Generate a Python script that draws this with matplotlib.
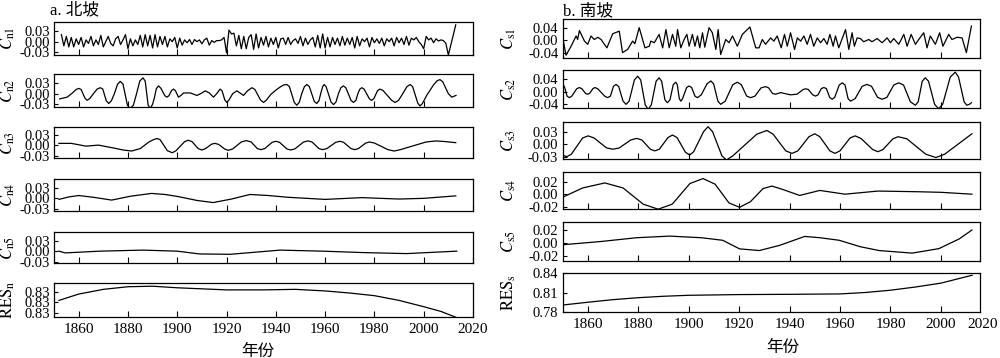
import matplotlib
matplotlib.use("Agg")
import matplotlib.pyplot as plt
import numpy as np

plt.rcParams['font.family'] = ['Liberation Serif', 'Noto Sans CJK SC']
plt.rcParams['mathtext.fontset'] = 'stix'
plt.rcParams['axes.unicode_minus'] = True

# ---------------- data: north slope (IMF values in units of 1e-3) ----------------
n1_years = list(range(1853, 2014))
n1_vals = [20, -12, 15, -15, 12, -15, 8,
           -8, 12, -15, 5, -5, 15, -12, 5, -8, 18,
           -15, 0, 15, -5, -12, 8, 15, -8, 5, 20,
           -20, 8, -12, 5, -8, 18, -15, 20, -12, 18,
           -18, 20, -15, 15, -8, 15, -15, 8, 0, 12,
           -18, 10, -10, 5, -3, 6, -8, 6, 0, 5,
           -6, 5, 10, -10, 3, -2, 3, 3, 5, 12,
           -32, 33, 22, 24, -12, 18, -20, 15, -20, 12,
           20, -22, 22, -18, 12, -10, 15, -15, 10, -8,
           12, -18, 8, 10, -8, 12, -8, 3, 8, -5,
           15, -12, 10, -8, 5, 12, -15, 18, -18, 22,
           -18, 12, -15, 12, -8, 10, -12, 15, -10, 10,
           -8, 12, -18, 15, -12, 8, 0, 10, -15, 12,
           -3, 8, -5, 10, -12, 8, 0, 10, -12, 12,
           -3, 10, -8, 15, -10, 10, 5, 12, 0, -8,
           -20, 15, 5, 10, -3, 8, 2, 5, 3, -5,
           -38, -10, 19, 48]

n2_years = [1852.3, 1855.3, 1857.5, 1859.0, 1860.0, 1861.0, 1862.5, 1863.4, 1864.5, 1866.0,
            1867.5, 1868.8, 1869.8, 1871.2, 1872.2, 1873.3, 1874.5, 1875.8, 1876.9, 1878.0,
            1879.8, 1880.9, 1882.2, 1883.5, 1884.8, 1886.1, 1887.0, 1888.2, 1889.1, 1890.0,
            1890.8, 1891.5, 1892.4, 1893.3, 1895.0, 1895.8, 1896.6, 1897.7, 1898.5, 1899.3,
            1900.5, 1901.5, 1902.6, 1905.3, 1908.0, 1909.5, 1911.4, 1913.0, 1914.7, 1916.0,
            1917.4, 1918.2, 1919.3, 1920.1, 1921.0, 1922.5, 1924.2, 1926.9, 1928.5, 1930.3,
            1931.5, 1933.8, 1935.0, 1936.2, 1938.0, 1940.0, 1942.0, 1943.3, 1944.5, 1945.5,
            1947.5, 1948.5, 1949.5, 1950.5, 1951.6, 1952.6, 1953.6, 1955.6, 1956.6, 1957.5,
            1958.2, 1959.0, 1959.6, 1960.4, 1962.4, 1963.4, 1964.4, 1965.4, 1966.4, 1967.4,
            1968.4, 1970.5, 1971.5, 1972.5, 1973.3, 1974.1, 1974.9, 1975.8, 1978.0, 1978.9,
            1979.8, 1981.3, 1982.3, 1983.5, 1987.0, 1988.4, 1989.8, 1991.5, 1993.2, 1994.5,
            1995.5, 1997.6, 1998.5, 1999.5, 2001.2, 2004.0, 2005.5, 2006.6, 2007.7, 2010.0,
            2011.4, 2013.1]
n2_vals = [-15, -10, 2, 12, 15, 12, -12, -19, -14, 0,
           13, 17, 13, -20, -28, -20, 0, 27, 35, 27,
           -33, -42, -33, 0, 36, 45, 36, -33, -42, -30,
           -10, 14, 22, 16, -6, -10, -6, 9, 13, 8,
           -10, -5, 2, 2, -5, 0, 8, 2, -10, 0,
           13, 8, -18, -25, -18, 0, 8, -5, 8, 17,
           12, -18, -25, -18, -2, 10, 20, 25, 26, 20,
           -25, -33, -25, 0, 20, 26, 20, -22, -28, -20,
           0, 20, 26, 20, -24, -31, -24, 0, 17, 22,
           17, -19, -25, -19, 0, 13, 17, 13, -15, -19,
           -14, 9, 13, 9, -19, -25, -19, 0, 20, 26,
           20, -27, -35, -28, -5, 25, 37, 40, 34, 0,
           -10, -5]

n3_years = [1852, 1857, 1860, 1863, 1868, 1874, 1878, 1881.5, 1885, 1888.5,
            1890.5, 1891.7, 1893, 1896, 1898, 1899.5, 1903, 1904.5, 1906, 1908.5,
            1910, 1911.5, 1914, 1915.3, 1916.8, 1919.2, 1920.7, 1922.5, 1926, 1928,
            1930, 1932.5, 1934, 1935.5, 1938.5, 1940, 1941.5, 1944.5, 1946, 1947.7,
            1951.3, 1953, 1954.7, 1957.5, 1959, 1960.7, 1964.3, 1966, 1967.5, 1970.5,
            1972, 1973.5, 1976.5, 1978, 1980, 1985.5, 1988, 1990.5, 2001, 2005,
            2009, 2013]
n3_vals = [6, 6, 2, -2, 1, -7, -13, -16, -9, 10,
           17, 20, 17, -15, -21, -15, 11, 15, 11, -9,
           -13, -9, 4, 6, 3, -10, -14, -10, 10, 14,
           10, -9, -12, -9, 9, 12, 9, -10, -13, -10,
           10, 13, 10, -9, -12, -9, 9, 12, 9, -9,
           -12, -9, 7, 10, 7, -12, -16, -12, 10, 13,
           11, 8]

n4_years = [1852, 1856, 1860, 1866, 1873.4, 1881, 1889.6, 1895, 1900.4, 1908,
            1914.6, 1922, 1929.5, 1937, 1945, 1960, 1975, 1990, 2000, 2013]
n4_vals = [-3, 4, 8, 3, -5, 6, 14, 11, 5, -6,
           -12, -2, 11, 8, 3, -3, 2, -2, 0, 7]

n5_years = [1852, 1854.5, 1868.7, 1886, 1900, 1909, 1921.5, 1941.7, 1959, 1975, 1993, 2013.4]
n5_vals = [0, -5, 0, 3, 0, -8, -9, 3, 0, -4, -7, 0]

resn_years = [1852, 1860, 1870, 1880, 1890, 1900, 1910, 1920, 1935, 1948, 1960, 1970,
              1980, 1990, 2000, 2007, 2013]
resn_vals = [0.8324, 0.8336, 0.8345, 0.8350, 0.8351, 0.8348, 0.8346, 0.8344, 0.8344, 0.8345,
             0.8342, 0.8338, 0.8333, 0.8324, 0.8312, 0.8303, 0.8292]

# ---------------- data: south slope ----------------
s1_years = [1850.1, 1851.4, 1853.4, 1855.4, 1856.0, 1856.7, 1858.7, 1860.0, 1861.3, 1862.6,
            1864.0, 1865.3, 1867.6, 1869.9, 1872.5, 1873.8, 1875.8, 1877.8, 1878.7, 1880.4,
            1882.7, 1884.4, 1885.0, 1886.4, 1888.3, 1889.7, 1891.0, 1892.3, 1893.6, 1894.9,
            1895.6, 1896.9, 1898.2, 1899.3, 1900.2, 1901.5, 1902.5, 1903.5, 1904.4, 1905.5,
            1906.4, 1908.1, 1909.4, 1910.8, 1911.7, 1912.7, 1914.7, 1916.0, 1917.4, 1919.3,
            1921.3, 1924.3, 1926.6, 1927.9, 1929.2, 1930.5, 1932.5, 1933.8, 1935.1, 1936.7,
            1938.0, 1939.1, 1940.4, 1942.0, 1943.1, 1944.4, 1945.7, 1947.0, 1948.3, 1949.6,
            1951.0, 1952.3, 1953.6, 1954.9, 1956.0, 1957.3, 1958.2, 1959.5, 1962.2, 1963.5,
            1964.8, 1965.7, 1966.8, 1968.1, 1969.4, 1971.4, 1972.7, 1974.7, 1976.7, 1978.7,
            1980.0, 1981.3, 1983.3, 1985.3, 1986.6, 1988.2, 1989.9, 1991.2, 1993.2, 1994.5,
            1995.8, 1997.8, 1999.5, 2000.8, 2003.1, 2004.4, 2006.4, 2008.4, 2010.1, 2012.1]
s1_vals = [8, -46, -18, 14, 3, 31, -2, -12, 14, 3,
           10, 3, -23, 21, 29, -38, -28, -2, -10, 40,
           -23, -18, -2, -7, 19, -23, 34, -23, 19, -18,
           34, -23, 3, 19, -18, 19, -18, 14, -23, 24,
           -21, 40, 24, -28, 34, -44, 3, -7, 14, -18,
           19, 42, -23, -23, 3, -12, 8, -2, 14, -23,
           19, -18, 24, -28, 8, -2, 14, -12, 19, -18,
           8, -7, 6, -12, 19, -18, 14, -23, 34, -28,
           24, -18, 8, 6, -4, 3, -4, 6, -7, 8,
           -7, 6, -12, 19, -18, 19, -12, 3, 24, -23,
           14, -12, 24, -18, 19, 3, 10, 8, -38, 45]

s2_years = [1850.1, 1850.8, 1851.8, 1852.7, 1853.7, 1855.6, 1856.7, 1857.7, 1859.2, 1860.0,
            1860.8, 1862.1, 1862.9, 1864.0, 1866.7, 1867.9, 1869.0, 1870.2, 1871.2, 1872.3,
            1874.0, 1875.2, 1876.4, 1878.5, 1879.8, 1881.0, 1882.8, 1884.0, 1885.2, 1887.1,
            1888.3, 1889.3, 1890.6, 1891.6, 1892.6, 1893.9, 1894.9, 1895.5, 1896.3, 1896.9,
            1897.6, 1899.2, 1900.2, 1901.2, 1902.5, 1903.5, 1905.0, 1907.3, 1908.8, 1909.9,
            1911.6, 1912.7, 1914.5, 1917.5, 1919.3, 1920.9, 1923.0, 1924.6, 1926.3, 1928.7,
            1930.5, 1931.7, 1933.3, 1934.5, 1936.5, 1940.4, 1943.0, 1945.4, 1946.4, 1947.4,
            1949.2, 1950.3, 1951.3, 1952.6, 1953.6, 1954.6, 1955.9, 1956.9, 1957.9, 1959.7,
            1960.9, 1962.0, 1963.2, 1964.2, 1966.0, 1968.8, 1970.7, 1972.5, 1974.9, 1976.7,
            1978.6, 1981.3, 1983.3, 1985.2, 1987.9, 1989.9, 1991.0, 1992.6, 1993.8, 1995.1,
            1997.5, 1999.1, 2000.7, 2003.7, 2005.7, 2007.0, 2009.2, 2010.3, 2011.3, 2012.1]
s2_vals = [23, 15, -14, -19, -14, 9, 13, 9, -6, -8,
           -5, 10, 13, 9, -14, -19, -14, 17, 23, 16,
           -30, -40, -30, 37, 49, 37, -42, -56, -42, 33,
           44, 33, -26, -35, -26, 22, 30, 22, -22, -30,
           -22, 13, 18, 13, -14, -19, -10, 25, 34, 25,
           -30, -40, -30, 22, 30, 22, -14, -19, -14, 12,
           16, 12, -6, -8, -3, -10, -8, 7, 9, 7,
           -10, -14, -10, 10, 13, 10, -18, -24, -18, 21,
           28, 21, -22, -30, -22, 17, 23, 17, -18, -24,
           -18, 21, 28, 21, -32, -43, -32, 33, 44, 33,
           -40, -54, -40, 46, 62, 46, -32, -43, -40, -35]

s3_years = [1850, 1851.7, 1853.5, 1858, 1860.2, 1862.5, 1867.5, 1870, 1872.5, 1877,
            1879.4, 1881.5, 1884.8, 1886.6, 1888.4, 1891.8, 1893.6, 1895.4, 1898.7, 1900.4,
            1902, 1905.9, 1907.7, 1909.5, 1913.2, 1915, 1917.5, 1927, 1931, 1933.5,
            1938.5, 1941, 1943.3, 1947.7, 1950, 1952, 1956, 1958, 1960, 1964,
            1966, 1968.3, 1973, 1975, 1977, 1981, 1983, 1986.5, 1994, 1998,
            2001.5, 2012.3]
s3_vals = [-26, -30, -24, 15, 20, 15, -9, -12, -9, 10,
           14, 10, -12, -16, -12, 16, 22, 16, -19, -26,
           -18, 30, 42, 30, -28, -38, -28, 24, 33, 24,
           -16, -22, -16, 18, 25, 18, -16, -22, -16, 15,
           20, 14, -13, -18, -13, 13, 18, 13, -24, -32,
           -24, 25]

s4_years = [1850, 1858, 1866.8, 1874, 1882, 1887.9, 1893.5, 1900.5, 1905.7, 1910.5,
            1916, 1920.2, 1924.5, 1929.5, 1933, 1937, 1944, 1952, 1962, 1975,
            1990, 2000, 2012.3]
s4_vals = [-5, 10, 18, 10, -16, -24, -16, 17, 25, 16,
           -14, -21, -12, 9, 13, 8, -2, 6, 0, 5,
           4, 3, 0]

s5_years = [1850, 1865, 1879.4, 1892.5, 1905, 1913.5, 1920.2, 1928, 1936, 1946, 1952,
            1959.7, 1968, 1975.5, 1988.6, 1999.2, 2007.2, 2012.3]
s5_vals = [-3, 2, 8, 10.5, 8, 4, -9.4, -12, -4, 10, 8,
           4, -6, -12, -16, -9, 6, 20]

ress_years = [1850, 1860, 1870, 1880, 1890, 1900, 1920, 1940, 1960, 1970, 1980, 1990, 2000, 2012.4]
ress_vals = [0.7907, 0.7950, 0.7990, 0.8020, 0.8042, 0.8057, 0.8068, 0.8072, 0.8078, 0.8100,
             0.8135, 0.8185, 0.8244, 0.8366]

left_labels = [r'$C_{\mathrm{n1}}$', r'$C_{\mathrm{n2}}$', r'$C_{\mathrm{n3}}$',
               r'$C_{\mathrm{n4}}$', r'$C_{\mathrm{n5}}$', r'$\mathrm{RES}_{\mathrm{n}}$']
right_labels = [r'$C_{\mathrm{s1}}$', r'$C_{\mathrm{s2}}$', r'$C_{\mathrm{s3}}$',
                r'$C_{\mathrm{s4}}$', r'$C_{\mathrm{s5}}$', r'$\mathrm{RES}_{\mathrm{s}}$']
left_yticks = [[-0.03, 0, 0.03]] * 5 + [[0.830, 0.832, 0.834]]
right_yticks = [[-0.04, 0, 0.04], [-0.04, 0, 0.04], [-0.03, 0, 0.03],
                [-0.02, 0, 0.02], [-0.02, 0, 0.02], [0.78, 0.81, 0.84]]
left_ylims = [(-0.038, 0.056), (-0.038, 0.056), (-0.036, 0.053), (-0.036, 0.055),
              (-0.034, 0.055), (0.82924, 0.83571)]
right_ylims = [(-0.0547, 0.067), (-0.0517, 0.0686), (-0.0355, 0.0533), (-0.0237, 0.0355),
               (-0.0283, 0.0325), (0.78, 0.84)]
xticks = [1860, 1880, 1900, 1920, 1940, 1960, 1980, 2000, 2020]

left_series = [(n1_years, n1_vals, 1e-3), (n2_years, n2_vals, 1e-3), (n3_years, n3_vals, 1e-3),
               (n4_years, n4_vals, 1e-3), (n5_years, n5_vals, 1e-3), (resn_years, resn_vals, 1.0)]
right_series = [(s1_years, s1_vals, 1e-3), (s2_years, s2_vals, 1e-3), (s3_years, s3_vals, 1e-3),
                (s4_years, s4_vals, 1e-3), (s5_years, s5_vals, 1e-3), (ress_years, ress_vals, 1.0)]

# ---------------- layout ----------------
W, H = 1000, 358
fig = plt.figure(figsize=(W / 100, H / 100), dpi=100)
L_boxes = [(22, 55), (74, 107), (127, 158), (179, 211), (232, 263), (283, 317)]
R_boxes = [(19, 58), (70, 108), (122, 159), (172, 209), (222, 261), (273, 312)]
L_x = (54, 473)
R_x = (562.5, 980)

YTICK_FS = 10.5
XTICK_FS = 11
LAB_FS = 12


def make_col(boxes, xr, series, labels, yticks, ylims, xlim, lab_x):
    axes = []
    for i, (top, bot) in enumerate(boxes):
        ax = fig.add_axes([xr[0] / W, 1 - bot / H, (xr[1] - xr[0]) / W, (bot - top) / H])
        yrs, vals, sc = series[i]
        ax.plot(yrs, np.asarray(vals, dtype=float) * sc, color='black', lw=0.9)
        ax.set_xlim(*xlim)
        ax.set_ylim(*ylims[i])
        ax.set_yticks(yticks[i])
        ax.set_yticklabels(['%.2f' % v for v in yticks[i]])
        ax.set_xticks([t for t in xticks if t <= xlim[1]])
        ax.tick_params(axis='x', direction='in', length=4, width=0.8, labelsize=XTICK_FS, pad=4)
        ax.tick_params(axis='y', direction='in', length=3, width=0.8, labelsize=YTICK_FS, pad=3)
        ax.tick_params(top=False, right=False)
        if i < len(boxes) - 1:
            ax.tick_params(labelbottom=False)
        for sp in ax.spines.values():
            sp.set_linewidth(0.9)
        ax.set_ylabel(labels[i], fontsize=LAB_FS)
        ax.yaxis.set_label_coords(lab_x, 0.5)
        axes.append(ax)
    return axes


lax = make_col(L_boxes, L_x, left_series, left_labels, left_yticks, left_ylims,
               (1850, 2020), (17 - L_x[0]) / (L_x[1] - L_x[0]))
rax = make_col(R_boxes, R_x, right_series, right_labels, right_yticks, right_ylims,
               (1850, 2015.5), (518 - R_x[0]) / (R_x[1] - R_x[0]))

# right column: end label at the axis end
rax[-1].annotate('2020', xy=(1.0, 0.0), xycoords='axes fraction', xytext=(2, -4),
                 textcoords='offset points', ha='center', va='top', fontsize=XTICK_FS,
                 family='Liberation Serif')

fig.text(50 / W, 1 - 10 / H, 'a. 北坡', fontsize=12, ha='left', va='center',
         family=['Liberation Serif', 'Noto Sans CJK SC'])
fig.text(563 / W, 1 - 11 / H, 'b. 南坡', fontsize=12, ha='left', va='center',
         family=['Liberation Serif', 'Noto Sans CJK SC'])
fig.text(258 / W, 1 - 351 / H, '年份', fontsize=12, ha='center', va='center',
         family=['Noto Sans CJK SC'])
fig.text(783 / W, 1 - 347 / H, '年份', fontsize=12, ha='center', va='center',
         family=['Noto Sans CJK SC'])

fig.savefig('out.png', dpi=100)
